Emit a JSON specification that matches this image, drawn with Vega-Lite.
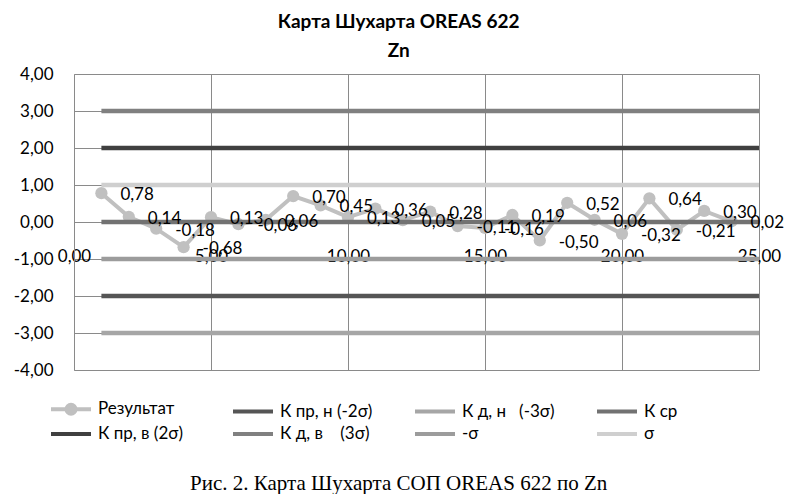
{
  "$schema": "https://vega.github.io/schema/vega-lite/v6.json",
  "padding": {"left": 13, "top": 13, "right": 5, "bottom": 0},
  "config": {
    "locale": {"number": {"decimal": ",", "thousands": " ", "grouping": [3], "currency": ["", ""], "minus": "-"}},
    "font": "Lato",
    "view": {"stroke": null}
  },
  "datasets": {
    "res": [
      {"n": 1, "value": 0.78, "series": "Результат"},
      {"n": 2, "value": 0.14, "series": "Результат"},
      {"n": 3, "value": -0.18, "series": "Результат"},
      {"n": 4, "value": -0.68, "series": "Результат"},
      {"n": 5, "value": 0.13, "series": "Результат"},
      {"n": 6, "value": -0.06, "series": "Результат"},
      {"n": 7, "value": 0.06, "series": "Результат"},
      {"n": 8, "value": 0.70, "series": "Результат"},
      {"n": 9, "value": 0.45, "series": "Результат"},
      {"n": 10, "value": 0.13, "series": "Результат"},
      {"n": 11, "value": 0.36, "series": "Результат"},
      {"n": 12, "value": 0.05, "series": "Результат"},
      {"n": 13, "value": 0.28, "series": "Результат"},
      {"n": 14, "value": -0.11, "series": "Результат"},
      {"n": 15, "value": -0.16, "series": "Результат"},
      {"n": 16, "value": 0.19, "series": "Результат"},
      {"n": 17, "value": -0.50, "series": "Результат"},
      {"n": 18, "value": 0.52, "series": "Результат"},
      {"n": 19, "value": 0.06, "series": "Результат"},
      {"n": 20, "value": -0.32, "series": "Результат"},
      {"n": 21, "value": 0.64, "series": "Результат"},
      {"n": 22, "value": -0.21, "series": "Результат"},
      {"n": 23, "value": 0.30, "series": "Результат"},
      {"n": 24, "value": 0.02, "series": "Результат"}
    ],
    "ref": [
      {"series": "К пр, н (-2σ)", "n": 1, "value": -2},
      {"series": "К пр, н (-2σ)", "n": 25, "value": -2},
      {"series": "К д, н\u00a0\u00a0\u00a0(-3σ)", "n": 1, "value": -3},
      {"series": "К д, н\u00a0\u00a0\u00a0(-3σ)", "n": 25, "value": -3},
      {"series": "К ср", "n": 1, "value": 0},
      {"series": "К ср", "n": 25, "value": 0},
      {"series": "К пр, в (2σ)", "n": 1, "value": 2},
      {"series": "К пр, в (2σ)", "n": 25, "value": 2},
      {"series": "К д, в\u00a0\u00a0\u00a0\u00a0(3σ)", "n": 1, "value": 3},
      {"series": "К д, в\u00a0\u00a0\u00a0\u00a0(3σ)", "n": 25, "value": 3},
      {"series": "-σ", "n": 1, "value": -1},
      {"series": "-σ", "n": 25, "value": -1},
      {"series": "σ", "n": 1, "value": 1},
      {"series": "σ", "n": 25, "value": 1}
    ]
  },
  "title": {
    "text": "Рис. 2. Карта Шухарта СОП OREAS 622 по Zn",
    "orient": "bottom",
    "anchor": "middle",
    "font": "Liberation Serif",
    "fontSize": 21,
    "fontWeight": "normal",
    "color": "black",
    "offset": 31
  },
  "vconcat": [
    {
      "width": 685,
      "height": 296,
      "title": {
        "text": ["Карта Шухарта OREAS 622", "Zn"],
        "font": "Lato",
        "fontSize": 19,
        "fontWeight": "bold",
        "color": "black",
        "lineHeight": 29,
        "anchor": "middle",
        "frame": "bounds",
        "offset": 4
      },
      "encoding": {
        "x": {
          "field": "n",
          "type": "quantitative",
          "scale": {"domain": [0, 25], "nice": false},
          "axis": {
            "values": [0, 5, 10, 15, 20, 25],
            "format": ".2f",
            "title": null,
            "ticks": false,
            "domain": false,
            "grid": true,
            "gridColor": "#8a8a8a",
            "gridWidth": 1,
            "gridOpacity": 1,
            "labelFont": "Lato",
            "labelFontSize": 17,
            "labelColor": "black",
            "labelFlush": false,
            "labelOverlap": false,
            "offset": -124,
            "labelPadding": 2
          }
        },
        "y": {
          "field": "value",
          "type": "quantitative",
          "scale": {"domain": [-4, 4], "nice": false},
          "axis": {
            "values": [-4, -3, -2, -1, 0, 1, 2, 3, 4],
            "format": ".2f",
            "title": null,
            "ticks": false,
            "domain": true,
            "domainColor": "#8a8a8a",
            "grid": true,
            "gridColor": "#8a8a8a",
            "gridWidth": 1,
            "gridOpacity": 1,
            "labelFont": "Lato",
            "labelFontSize": 17,
            "labelColor": "black",
            "labelPadding": 21
          }
        },
        "color": {
          "field": "series",
          "type": "nominal",
          "scale": {
            "domain": ["Результат", "К пр, н (-2σ)", "К д, н\u00a0\u00a0\u00a0(-3σ)", "К ср", "К пр, в (2σ)", "К д, в\u00a0\u00a0\u00a0\u00a0(3σ)", "-σ", "σ"],
            "range": ["#c0c0c0", "#555555", "#a6a6a6", "#727272", "#404040", "#808080", "#9c9c9c", "#cfcfcf"]
          },
          "legend": {
            "orient": "none",
            "legendX": -15,
            "legendY": 323,
            "direction": "horizontal",
            "columns": 4,
            "gridAlign": "all",
            "columnPadding": 34,
            "rowPadding": -5,
            "title": null,
            "symbolType": "M-2,0H2",
            "symbolSize": 400,
            "symbolStrokeWidth": 4,
            "labelFont": "Lato",
            "labelFontSize": 17,
            "labelColor": "black",
            "labelOffset": 15,
            "labelLimit": 0,
            "encode": {
              "symbols": {
                "update": {
                  "shape": {"signal": "datum.value === 'Результат' ? 'M-2,0H2M0.45,0A0.45,0.45,0,1,1,-0.45,0A0.45,0.45,0,1,1,0.45,0Z' : 'M-2,0H2'"},
                  "fill": {"signal": "datum.value === 'Результат' ? '#c0c0c0' : 'transparent'"}
                }
              }
            }
          }
        }
      },
      "layer": [
        {
          "data": {"name": "res"},
          "mark": {"type": "line", "strokeWidth": 4}
        },
        {
          "data": {"name": "res"},
          "mark": {"type": "point", "filled": true, "opacity": 1, "size": 150, "shape": "circle"}
        },
        {
          "data": {"name": "ref"},
          "mark": {"type": "line", "strokeWidth": 4.5}
        },
        {
          "data": {"name": "res"},
          "mark": {"type": "text", "align": "left", "baseline": "middle", "dx": 19, "dy": 2, "fontSize": 17, "font": "Lato", "color": "black"},
          "encoding": {
            "text": {"field": "value", "type": "quantitative", "format": ".2f"},
            "color": {"value": "black"}
          }
        }
      ]
    }
  ]
}
